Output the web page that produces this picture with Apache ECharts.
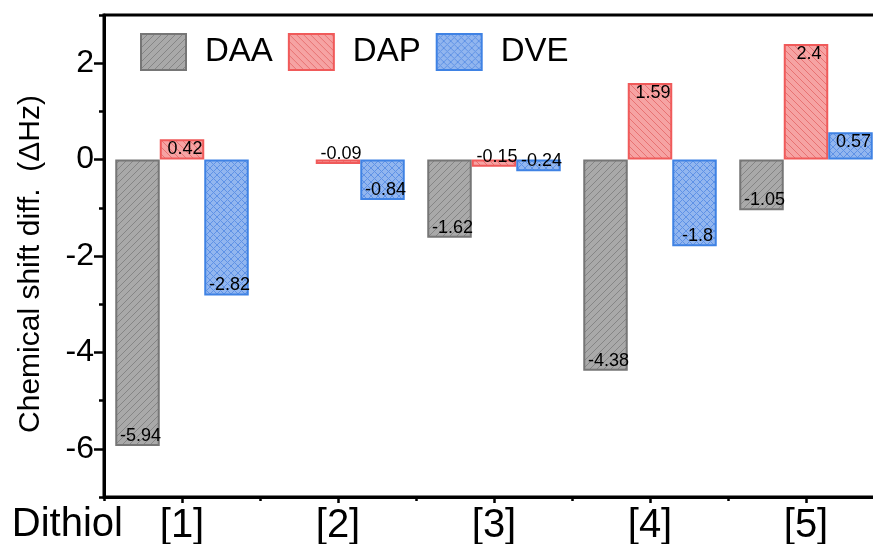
<!DOCTYPE html>
<html>
<head>
<meta charset="utf-8">
<script src="https://cdn.jsdelivr.net/npm/echarts@6/dist/echarts.min.js"></script>
<style>
    html, body {margin: 0; padding: 0; background: #fff;}
    #box {width: 873px; height: 544px;}
</style>
</head>
<body>
<div id="box"></div>
<script>
// data
var categories = ['[1]', '[2]', '[3]', '[4]', '[5]'];
var daaData = [-5.94, null, -1.62, -4.38, -1.05];
var dapData = [0.42, -0.09, -0.15, 1.59, 2.4];
var dveData = [-2.82, -0.84, -0.24, -1.8, 0.57];
var majorTicks = [-6, -4, -2, 0, 2];
var minorTicks = [-7, -5, -3, -1, 1, 3];

var fontName = "'Liberation Sans', Arial, sans-serif";

// hatch fill tile
function makePattern(bg, line, kind) {
    var s = 7;
    var c = document.createElement('canvas');
    c.width = s;
    c.height = s;
    var ctx = c.getContext('2d');
    ctx.fillStyle = bg;
    ctx.fillRect(0, 0, s, s);
    ctx.strokeStyle = line;
    ctx.lineWidth = 1;
    ctx.beginPath();
    if (kind == 'up' || kind == 'cross') {
        ctx.moveTo(-1, s + 1);
        ctx.lineTo(s + 1, -1);
    }
    if (kind == 'down' || kind == 'cross') {
        ctx.moveTo(-1, -1);
        ctx.lineTo(s + 1, s + 1);
    }
    ctx.stroke();
    return {image: c, repeat: 'repeat'};
}

// label sits inside the bar end
function withLabels(arr) {
    return arr.map(function (v) {
        if (v === null) return '-';
        return {value: v, label: {position: v >= 0 ? 'insideTop' : 'insideBottom'}};
    });
}

function makeSeries(name, arr, fill, border) {
    return {
        name: name,
        type: 'bar',
        barWidth: 44.5,
        barGap: '0%',
        xAxisIndex: 0,
        yAxisIndex: 0,
        itemStyle: {color: fill, borderColor: border, borderWidth: 2},
        label: {
            show: true,
            color: '#000',
            fontSize: 18,
            fontFamily: fontName,
            distance: 1,
            offset: [3, 0]
        },
        data: withLabels(arr)
    };
}

var tickLine = {color: '#000', width: 2.5};

var box_chart = echarts.init(document.getElementById('box'));
var option = {
    animation: false,
    textStyle: {fontFamily: fontName},
    grid: {
        left: 104, right: -11, top: 15, bottom: 47,
        containLabel: false,
        outerBoundsMode: 'none',
        show: true, borderColor: '#000', borderWidth: 3
    },
    legend: {
        left: 135, top: 28,
        icon: 'rect',
        itemWidth: 45, itemHeight: 36,
        itemGap: 15,
        textStyle: {fontSize: 33, color: '#000', fontFamily: fontName, padding: [0, 0, 0, 14]},
        data: ['DAA', 'DAP', 'DVE']
    },
    xAxis: [
        {
            type: 'category',
            data: categories,
            position: 'bottom',
            name: 'Dithiol',
            nameLocation: 'start',
            nameGap: -19,
            nameTextStyle: {fontSize: 40, color: '#000', verticalAlign: 'top', lineHeight: 56},
            axisLine: {onZero: false, lineStyle: {color: '#000', width: 3}},
            axisTick: {show: true, alignWithLabel: true, length: 6, lineStyle: tickLine},
            axisLabel: {fontSize: 40, color: '#000', margin: 9}
        },
        {
            // boundary ticks between groups
            type: 'category',
            data: categories,
            position: 'bottom',
            axisLine: {show: false, onZero: false},
            axisTick: {show: true, length: 4, lineStyle: tickLine},
            axisLabel: {show: false}
        }
    ],
    yAxis: [
        {
            type: 'value',
            position: 'left',
            min: -7,
            max: 3,
            name: 'Chemical shift diff.  (\u0394Hz)',
            nameLocation: 'middle',
            nameGap: 58,
            nameTextStyle: {fontSize: 30, color: '#000', padding: [0, 16, 0, 0]},
            splitLine: {show: false},
            axisLine: {show: true, onZero: false, lineStyle: {color: '#000', width: 3}},
            axisTick: {show: true, customValues: minorTicks, length: 5, lineStyle: tickLine},
            axisLabel: {show: false}
        },
        {
            type: 'value',
            position: 'left',
            min: -7,
            max: 3,
            splitLine: {show: false},
            axisLine: {show: false, onZero: false},
            axisTick: {show: true, customValues: majorTicks, length: 10, lineStyle: tickLine},
            axisLabel: {customValues: majorTicks, fontSize: 32, color: '#000', margin: 10}
        }
    ],
    series: [
        makeSeries('DAA', daaData, makePattern('#a9a9a9', '#858585', 'up'), '#767676'),
        makeSeries('DAP', dapData, makePattern('#f6a3a3', '#e87272', 'down'), '#f05a5a'),
        makeSeries('DVE', dveData, makePattern('#92b6ef', '#5f92e6', 'cross'), '#3f82e4')
    ]
};
box_chart.setOption(option);
</script>
</body>
</html>
